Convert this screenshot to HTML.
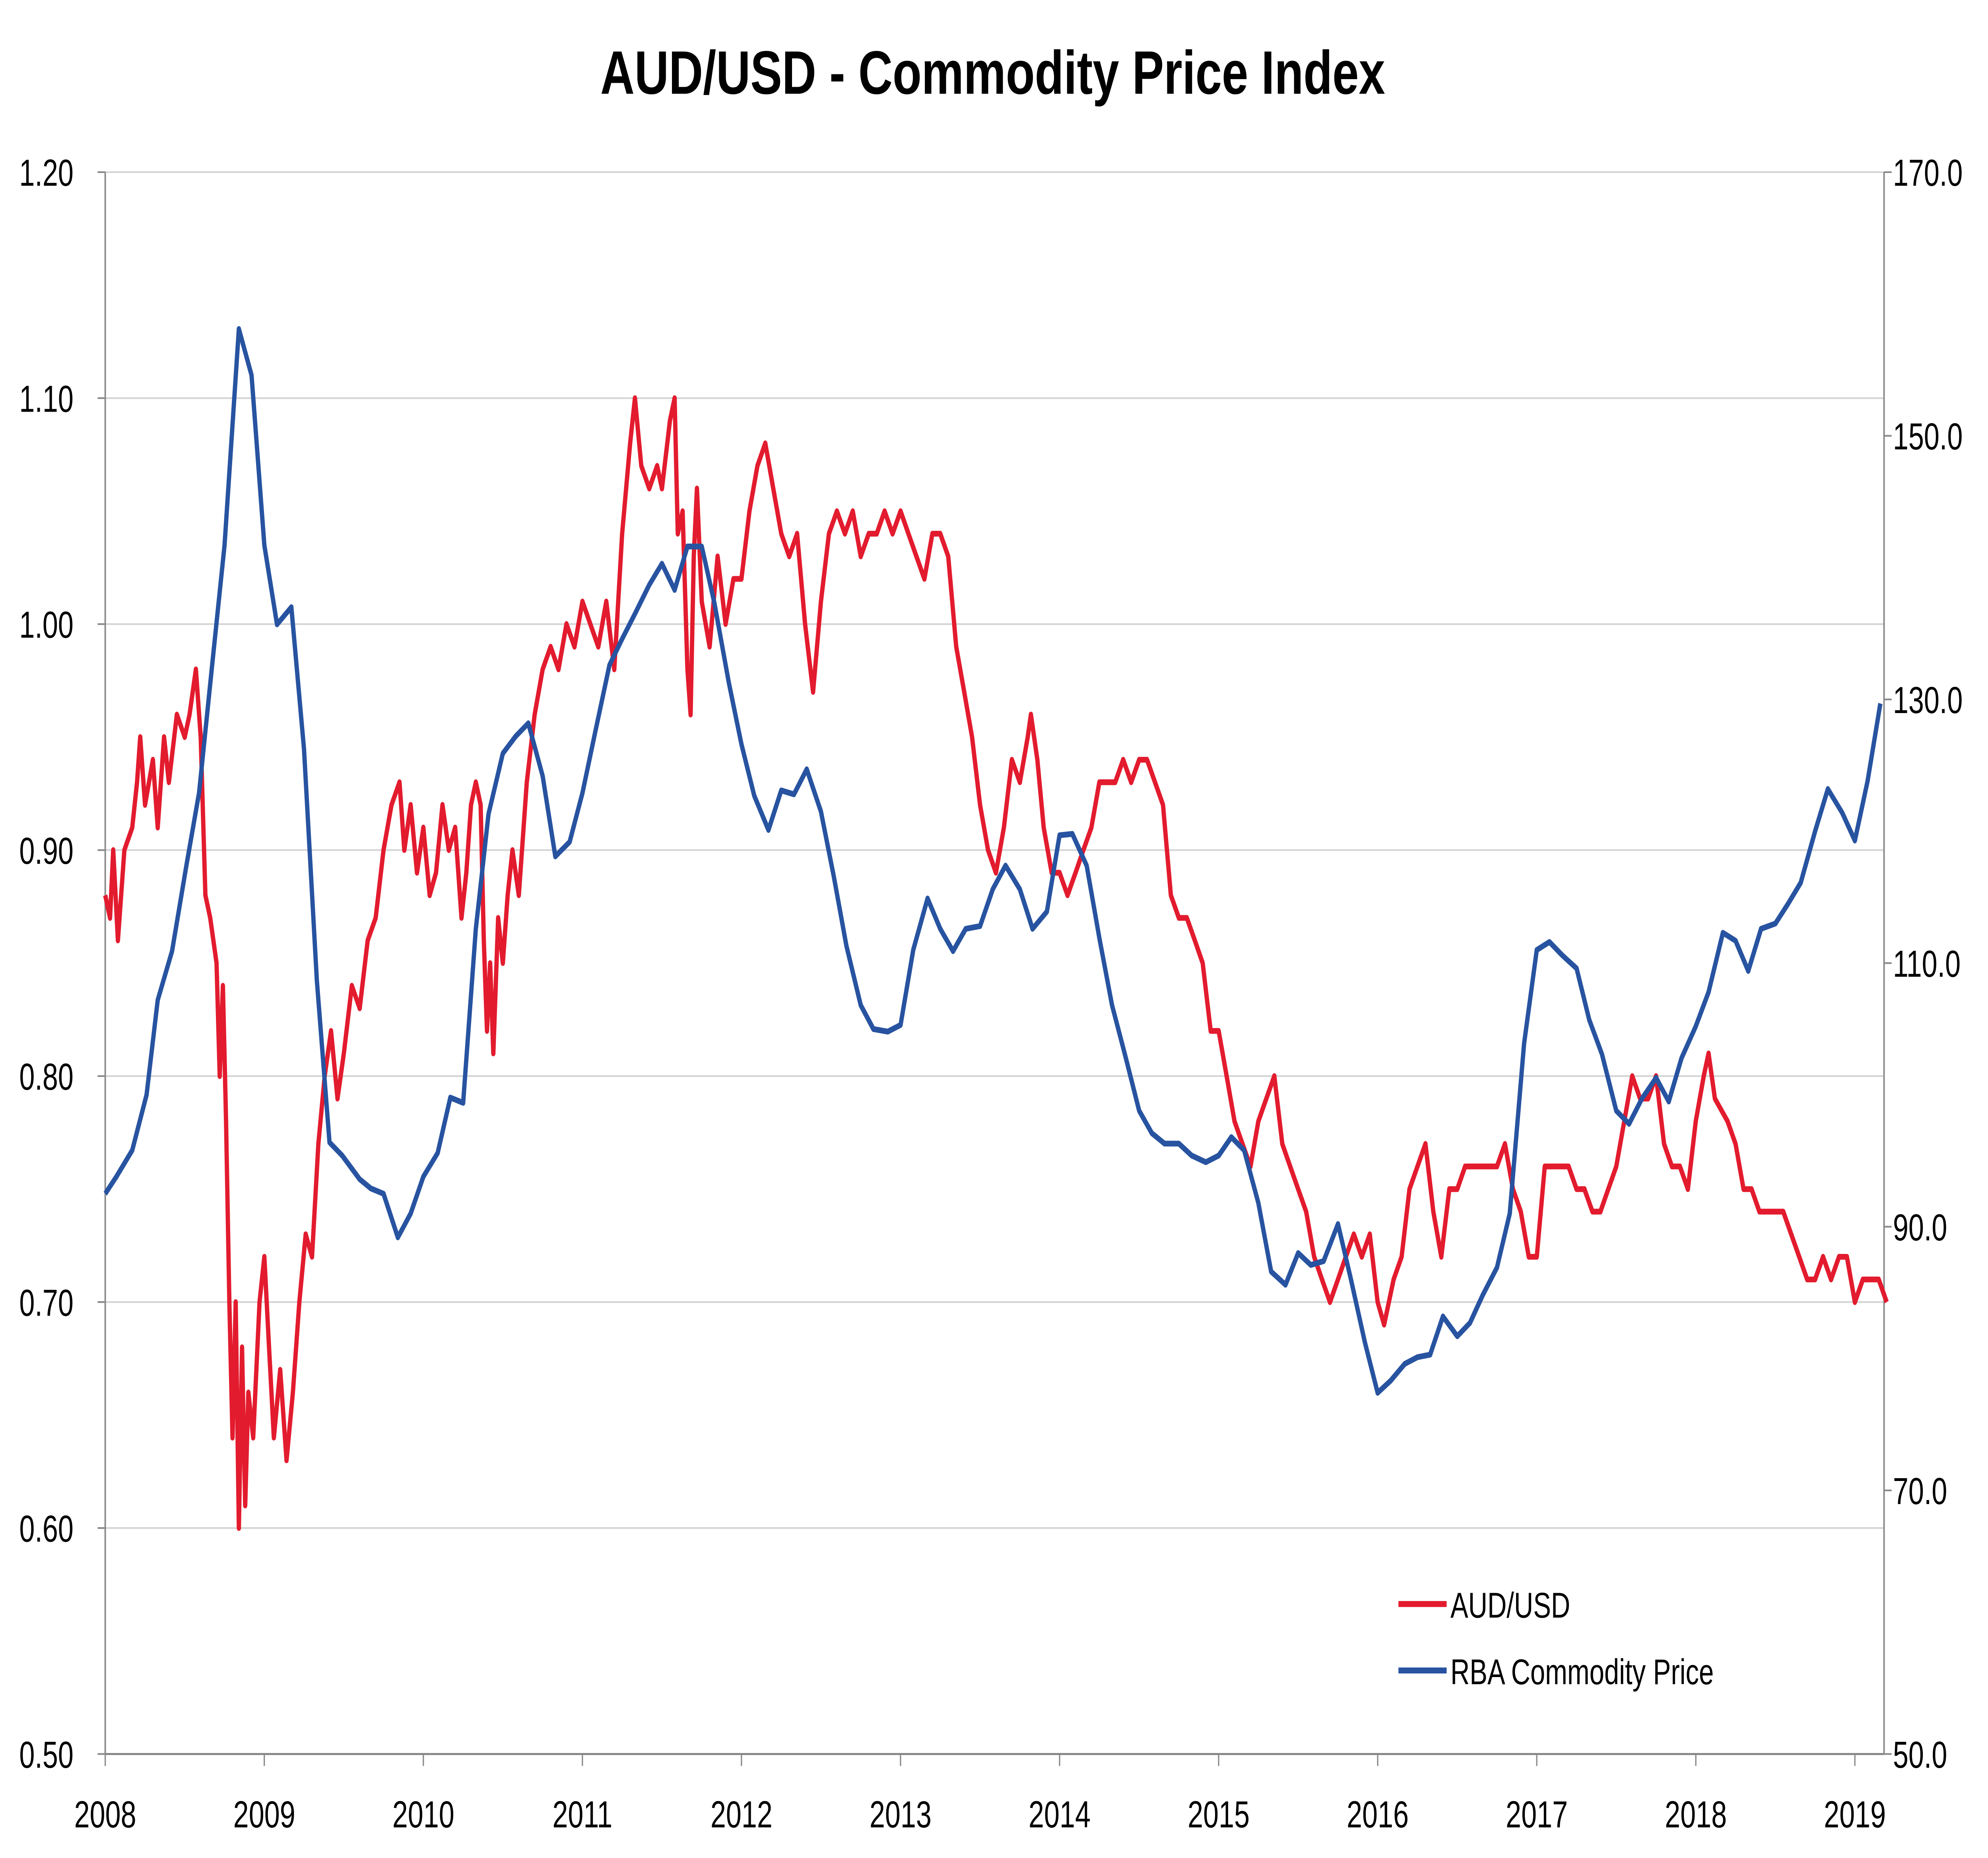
<!DOCTYPE html>
<html><head><meta charset="utf-8"><style>
html,body{margin:0;padding:0;background:#fff;width:100%;height:100%;overflow:hidden;}
svg{display:block;font-family:"Liberation Sans",sans-serif;width:100vw;height:100vh;}
</style></head><body>
<svg id="chart" viewBox="0 0 1568 1090" preserveAspectRatio="none" xmlns="http://www.w3.org/2000/svg">
<rect width="1568" height="1090" fill="#fff"/>
<text x="783" y="55" text-anchor="middle" font-size="36" font-weight="bold" textLength="619" lengthAdjust="spacingAndGlyphs">AUD/USD - Commodity Price Index</text>
<g id="grid"></g>
<g id="axes"></g>
<g id="series"></g>
<g>
<line x1="1103" y1="941" x2="1141" y2="941" stroke="#e31b2e" stroke-width="3.5"/>
<text x="1144" y="949" font-size="21">AUD/USD</text>
<line x1="1103" y1="980" x2="1141" y2="980" stroke="#2753a0" stroke-width="3.5"/>
<text x="1144" y="988" font-size="21">RBA Commodity Price</text>
</g>
</svg>
<script>
const leftTicks=[0.50,0.60,0.70,0.80,0.90,1.00,1.10,1.20];
const rightTicks=[50,70,90,110,130,150,170];
const yearTicks=[2008,2009,2010,2011,2012,2013,2014,2015,2016,2017,2018,2019];
const audDates=[2008.0,2008.03,2008.05,2008.08,2008.12,2008.17,2008.2,2008.22,2008.25,2008.3,2008.33,2008.37,2008.4,2008.45,2008.5,2008.53,2008.57,2008.6,2008.63,2008.66,2008.7,2008.72,2008.74,2008.76,2008.78,2008.8,2008.82,2008.84,2008.86,2008.88,2008.9,2008.93,2008.97,2009.0,2009.03,2009.06,2009.1,2009.14,2009.18,2009.22,2009.26,2009.3,2009.34,2009.38,2009.42,2009.46,2009.5,2009.55,2009.6,2009.65,2009.7,2009.75,2009.8,2009.85,2009.88,2009.92,2009.96,2010.0,2010.04,2010.08,2010.12,2010.16,2010.2,2010.24,2010.27,2010.3,2010.33,2010.36,2010.38,2010.4,2010.42,2010.44,2010.47,2010.5,2010.53,2010.56,2010.6,2010.65,2010.7,2010.75,2010.8,2010.85,2010.9,2010.95,2011.0,2011.05,2011.1,2011.15,2011.2,2011.25,2011.3,2011.33,2011.37,2011.42,2011.47,2011.5,2011.55,2011.58,2011.6,2011.63,2011.66,2011.68,2011.7,2011.72,2011.75,2011.8,2011.85,2011.9,2011.95,2012.0,2012.05,2012.1,2012.15,2012.2,2012.25,2012.3,2012.35,2012.4,2012.45,2012.5,2012.55,2012.6,2012.65,2012.7,2012.75,2012.8,2012.85,2012.9,2012.95,2013.0,2013.05,2013.1,2013.15,2013.2,2013.25,2013.3,2013.35,2013.4,2013.45,2013.5,2013.55,2013.6,2013.65,2013.7,2013.75,2013.8,2013.82,2013.86,2013.9,2013.95,2014.0,2014.05,2014.1,2014.15,2014.2,2014.25,2014.3,2014.35,2014.4,2014.45,2014.5,2014.55,2014.6,2014.65,2014.7,2014.75,2014.8,2014.85,2014.9,2014.95,2015.0,2015.05,2015.1,2015.15,2015.2,2015.25,2015.3,2015.35,2015.4,2015.45,2015.5,2015.55,2015.6,2015.65,2015.7,2015.75,2015.8,2015.85,2015.9,2015.95,2016.0,2016.04,2016.1,2016.15,2016.2,2016.25,2016.3,2016.35,2016.4,2016.45,2016.5,2016.55,2016.6,2016.65,2016.7,2016.75,2016.8,2016.85,2016.9,2016.95,2017.0,2017.05,2017.1,2017.15,2017.2,2017.25,2017.3,2017.35,2017.4,2017.45,2017.5,2017.55,2017.6,2017.65,2017.7,2017.75,2017.8,2017.85,2017.9,2017.95,2018.0,2018.05,2018.08,2018.12,2018.2,2018.25,2018.3,2018.35,2018.4,2018.45,2018.5,2018.55,2018.6,2018.65,2018.7,2018.75,2018.8,2018.85,2018.9,2018.95,2019.0,2019.05,2019.1,2019.15,2019.2];
const audValues=[0.88,0.87,0.90,0.86,0.90,0.91,0.93,0.95,0.92,0.94,0.91,0.95,0.93,0.96,0.95,0.96,0.98,0.95,0.88,0.87,0.85,0.80,0.84,0.78,0.70,0.64,0.70,0.60,0.68,0.61,0.66,0.64,0.70,0.72,0.68,0.64,0.67,0.63,0.66,0.70,0.73,0.72,0.77,0.80,0.82,0.79,0.81,0.84,0.83,0.86,0.87,0.90,0.92,0.93,0.90,0.92,0.89,0.91,0.88,0.89,0.92,0.90,0.91,0.87,0.89,0.92,0.93,0.92,0.86,0.82,0.85,0.81,0.87,0.85,0.88,0.90,0.88,0.93,0.96,0.98,0.99,0.98,1.00,0.99,1.01,1.00,0.99,1.01,0.98,1.04,1.08,1.10,1.07,1.06,1.07,1.06,1.09,1.10,1.04,1.05,0.98,0.96,1.03,1.06,1.01,0.99,1.03,1.00,1.02,1.02,1.05,1.07,1.08,1.06,1.04,1.03,1.04,1.00,0.97,1.01,1.04,1.05,1.04,1.05,1.03,1.04,1.04,1.05,1.04,1.05,1.04,1.03,1.02,1.04,1.04,1.03,0.99,0.97,0.95,0.92,0.90,0.89,0.91,0.94,0.93,0.95,0.96,0.94,0.91,0.89,0.89,0.88,0.89,0.90,0.91,0.93,0.93,0.93,0.94,0.93,0.94,0.94,0.93,0.92,0.88,0.87,0.87,0.86,0.85,0.82,0.82,0.80,0.78,0.77,0.76,0.78,0.79,0.80,0.77,0.76,0.75,0.74,0.72,0.71,0.70,0.71,0.72,0.73,0.72,0.73,0.70,0.69,0.71,0.72,0.75,0.76,0.77,0.74,0.72,0.75,0.75,0.76,0.76,0.76,0.76,0.76,0.77,0.75,0.74,0.72,0.72,0.76,0.76,0.76,0.76,0.75,0.75,0.74,0.74,0.75,0.76,0.78,0.80,0.79,0.79,0.80,0.77,0.76,0.76,0.75,0.78,0.80,0.81,0.79,0.78,0.77,0.75,0.75,0.74,0.74,0.74,0.74,0.73,0.72,0.71,0.71,0.72,0.71,0.72,0.72,0.70,0.71,0.71,0.71,0.70];
const rbaDates=[2008.0,2008.07,2008.17,2008.26,2008.33,2008.42,2008.51,2008.59,2008.67,2008.75,2008.84,2008.92,2009.0,2009.08,2009.17,2009.25,2009.33,2009.41,2009.49,2009.6,2009.67,2009.75,2009.84,2009.92,2010.0,2010.09,2010.17,2010.25,2010.33,2010.41,2010.5,2010.58,2010.66,2010.75,2010.83,2010.92,2011.0,2011.08,2011.17,2011.25,2011.33,2011.42,2011.5,2011.58,2011.66,2011.75,2011.83,2011.92,2012.0,2012.08,2012.17,2012.25,2012.33,2012.41,2012.5,2012.58,2012.66,2012.75,2012.83,2012.92,2013.0,2013.08,2013.17,2013.25,2013.33,2013.41,2013.5,2013.58,2013.66,2013.75,2013.83,2013.92,2014.0,2014.08,2014.17,2014.25,2014.33,2014.41,2014.5,2014.58,2014.66,2014.75,2014.83,2014.92,2015.0,2015.08,2015.16,2015.25,2015.33,2015.42,2015.5,2015.58,2015.66,2015.75,2015.83,2015.92,2016.0,2016.08,2016.17,2016.25,2016.33,2016.41,2016.5,2016.58,2016.66,2016.75,2016.83,2016.92,2017.0,2017.08,2017.16,2017.25,2017.33,2017.41,2017.5,2017.58,2017.66,2017.75,2017.83,2017.91,2018.0,2018.08,2018.17,2018.25,2018.33,2018.41,2018.5,2018.58,2018.66,2018.75,2018.83,2018.92,2019.0,2019.08,2019.16];
const rbaValues=[92.5,93.8,95.8,100,107.2,110.9,117.4,122.9,132.4,141.7,158.1,154.6,141.7,135.7,137,126.2,108.7,96.4,95.4,93.6,92.9,92.5,89.2,91,93.8,95.6,99.8,99.4,112.6,121.3,125.9,127.2,128.2,124.2,118.1,119.2,122.9,127.5,132.6,134.6,136.5,138.7,140.3,138.3,141.6,141.6,137.3,131.3,126.6,122.7,120.1,123.1,122.8,124.7,121.5,116.6,111.3,106.8,105,104.8,105.3,111,114.9,112.6,110.9,112.6,112.8,115.6,117.4,115.6,112.6,113.9,119.7,119.8,117.4,111.9,106.8,103.1,98.8,97.1,96.3,96.3,95.4,94.9,95.4,96.8,95.8,91.8,86.6,85.6,88,87.1,87.4,90.2,86.1,81.2,77.4,78.3,79.6,80.1,80.3,83.2,81.7,82.7,84.8,86.9,91,103.9,111,111.6,110.6,109.6,105.7,103.1,98.8,97.8,99.7,101.3,99.5,102.8,105.2,107.8,112.3,111.7,109.4,112.6,113,114.5,116.1,120,123.2,121.4,119.3,123.8,129.7];

const NS="http://www.w3.org/2000/svg";
const L=83,R=1486,T=101,B=1029;
const xS=d=>L+(d-2008)*(1380/11);
const yL=v=>B-(v-0.5)/0.7*(B-T);
const yR=v=>B-(v-50)/120*(B-T);
function mk(tag,attrs,parent){const e=document.createElementNS(NS,tag);for(const k in attrs)e.setAttribute(k,attrs[k]);parent.appendChild(e);return e;}
const grid=document.getElementById('grid'),axes=document.getElementById('axes'),series=document.getElementById('series');
leftTicks.forEach(v=>{
  if(v>0.5){const g=mk('line',{x1:L,x2:R,y1:yL(v),y2:yL(v),stroke:'#d4d4d4','stroke-width':1},grid);
  
  }
  const tk=mk('line',{x1:L-6,x2:L,y1:yL(v),y2:yL(v),stroke:'#888','stroke-width':1},axes);
  
  
  const t=mk('text',{x:58,y:yL(v)+8,'text-anchor':'end','font-size':22},axes);
  
  
  t.textContent=v.toFixed(2);
});
rightTicks.forEach(v=>{
  const tk=mk('line',{x1:R,x2:R+6,y1:yR(v),y2:yR(v),stroke:'#888','stroke-width':1},axes);
  
  
  const t=mk('text',{x:1493,y:yR(v)+8,'font-size':22},axes);
  
  
  t.textContent=v.toFixed(1);
});
yearTicks.forEach(y=>{
  const tk=mk('line',{x1:xS(y),x2:xS(y),y1:B,y2:B+7,stroke:'#888','stroke-width':1},axes);
  
  
  const t=mk('text',{x:xS(y),y:1072,'text-anchor':'middle','font-size':22},axes);
  
  
  t.textContent=y;
});
const la=mk('line',{x1:L,x2:L,y1:T,y2:B,stroke:'#888','stroke-width':1.2},axes);


const ra=mk('line',{x1:R,x2:R,y1:T,y2:B,stroke:'#888','stroke-width':1.2},axes);


const ba=mk('line',{x1:L,x2:R,y1:B,y2:B,stroke:'#888','stroke-width':1.2},axes);


const audPts=audDates.map((d,i)=>xS(d).toFixed(1)+','+yL(audValues[i]).toFixed(1)).join(' ');
const a=mk('polyline',{points:audPts,fill:'none',stroke:'#e31b2e','stroke-width':3.4,'stroke-linejoin':'round'},series);


const rbaPts=rbaDates.map((d,i)=>xS(d).toFixed(1)+','+yR(rbaValues[i]).toFixed(1)).join(' ');
const b=mk('polyline',{points:rbaPts,fill:'none',stroke:'#2753a0','stroke-width':3.4,'stroke-linejoin':'round'},series);


</script>
</body></html>
